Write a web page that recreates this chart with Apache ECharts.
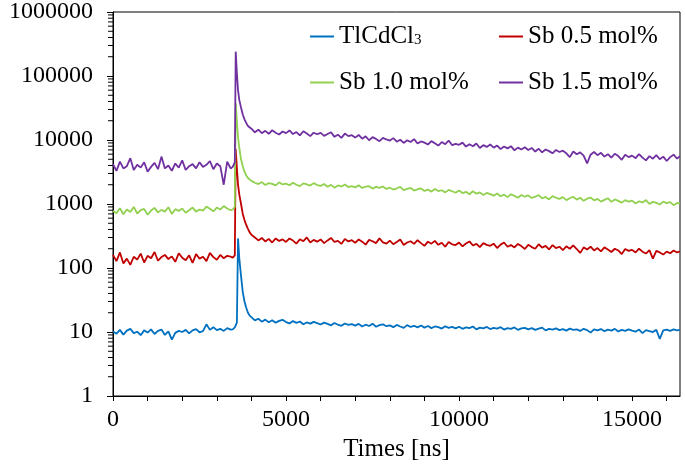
<!DOCTYPE html>
<html>
<head>
<meta charset="utf-8">
<script src="https://cdn.jsdelivr.net/npm/echarts@6/dist/echarts.min.js"></script>
<style>html,body{margin:0;padding:0;background:#fff}#c{width:685px;height:465px}</style>
</head>
<body>
<div id="c"></div>
<script>
// ---- data ----
const seriesNames = ['TlCdCl3', 'Sb 0.5 mol%', 'Sb 1.0 mol%', 'Sb 1.5 mol%'];
const seriesColors = ['#0070C0', '#C00000', '#92D050', '#7030A0'];
const xTickStep = 1000;
const xLabelStep = 5000;
const yTickValues = [1, 10, 100, 1000, 10000, 100000, 1000000];
const yMinorTickValues = [2,3,4,5,6,7,8,9,20,30,40,50,60,70,80,90,200,300,400,500,600,700,800,900,
  2000,3000,4000,5000,6000,7000,8000,9000,20000,30000,40000,50000,60000,70000,80000,90000,
  200000,300000,400000,500000,600000,700000,800000,900000];

const times = [0,100,200,300,400,500,600,700,800,900,
 1000,1100,1200,1300,1400,1500,1600,1700,1800,1900,
 2000,2100,2200,2300,2400,2500,2600,2700,2800,2900,
 3000,3100,3200,3300,3400,
 3460,3520,3546,3580,3613,3650,3700,3750,3800,3850,3900,3950,
 4000,4100,4200,4300,4400,4500,4600,4700,4800,4900,
 5000,5100,5200,5300,5400,5500,5600,5700,5800,5900,
 6000,6100,6200,6300,6400,6500,6600,6700,6800,6900,
 7000,7100,7200,7300,7400,7500,7600,7700,7800,7900,
 8000,8100,8200,8300,8400,8500,8600,8700,8800,8900,
 9000,9100,9200,9300,9400,9500,9600,9700,9800,9900,
 10000,10100,10200,10300,10400,10500,10600,10700,10800,10900,
 11000,11100,11200,11300,11400,11500,11600,11700,11800,11900,
 12000,12100,12200,12300,12400,12500,12600,12700,12800,12900,
 13000,13100,13200,13300,13400,13500,13600,13700,13800,13900,
 14000,14100,14200,14300,14400,14500,14600,14700,14800,14900,
 15000,15100,15200,15300,15400,15500,15600,15700,15800,15900,
 16000,16100,16200,16300,16380];

const tlcdcl3 = [10.2,9.4,10.8,9.1,10.5,11.2,9.6,10.1,8.9,10.6,
 9.8,11.0,9.3,10.4,10.9,9.0,10.2,7.6,9.7,10.4,
 10.0,10.8,9.5,10.6,11.1,9.9,10.3,13.2,10.8,11.9,
 10.7,11.2,10.4,11.5,10.9,
 11.0,11.8,12.2,14.0,290,140,75,42,30,24,20,18,
 16.8,15.2,16.1,14.5,15.6,14.2,15.3,14.0,14.9,15.5,
 14.3,13.6,14.8,13.9,14.6,13.2,14.1,13.5,14.4,13.8,
 13.1,14.0,13.4,12.7,13.8,13.0,12.5,13.6,12.9,13.3,
 12.6,13.4,12.2,13.0,12.4,13.5,12.1,12.8,13.2,12.3,
 12.7,11.9,12.9,12.2,11.6,12.8,12.0,12.5,11.8,12.6,
 11.7,12.4,11.5,12.2,11.9,11.3,12.3,11.6,12.0,11.4,
 12.1,11.2,11.8,11.5,12.2,11.0,11.7,11.4,12.0,11.1,
 11.6,11.3,11.9,10.9,11.5,11.2,11.8,10.8,11.4,11.6,
 11.0,11.5,10.8,11.3,11.7,10.6,11.2,10.9,11.4,10.7,
 11.1,10.5,11.3,10.8,11.0,10.4,11.2,10.7,9.8,11.0,
 10.6,11.1,10.3,10.9,10.5,11.2,10.2,10.8,10.4,11.0,
 10.5,10.1,10.9,9.6,10.7,10.3,10.0,10.8,7.8,10.6,
 10.9,10.4,11.0,10.6,10.8];

const sb05 = [160,128,175,118,140,112,150,135,168,122,
 155,142,178,130,148,160,138,152,125,170,
 145,132,158,120,165,140,150,128,172,148,
 135,160,142,155,150,
 145,158,7200,3600,2000,1400,1000,700,560,470,410,360,
 330,300,270,295,260,285,250,290,265,280,
 255,290,268,240,282,262,300,250,275,258,
 280,245,270,295,255,265,238,285,260,272,
 248,280,258,232,275,262,245,290,252,240,
 268,235,255,278,228,250,262,238,272,245,
 222,258,240,265,230,248,215,255,235,228,
 250,218,242,260,225,238,212,245,230,222,
 240,205,232,250,215,228,210,238,220,198,
 230,212,200,235,208,222,195,228,205,215,
 190,218,200,225,198,172,210,195,215,188,
 205,182,210,195,178,200,188,165,198,185,
 192,175,200,180,168,190,140,185,175,162,
 180,170,188,175,182];

const sb10 = [780,720,860,690,820,750,900,710,800,840,
 680,790,870,740,810,760,890,700,830,780,
 850,730,800,880,760,820,790,910,840,770,
 880,820,930,850,800,
 820,900,37500,20000,11000,7500,5000,3900,3200,2800,2550,2400,
 2300,2150,2050,2200,1980,2120,2060,1950,2180,2020,
 2080,1960,2150,2000,1900,2100,2030,1940,2120,1980,
 1920,2050,1860,1990,1800,1950,1880,2020,1840,1900,
 1820,1960,1780,1870,1900,1740,1850,1790,1880,1720,
 1800,1680,1760,1850,1650,1720,1780,1620,1700,1750,
 1600,1680,1560,1720,1590,1640,1520,1660,1580,1500,
 1620,1480,1550,1420,1580,1450,1520,1380,1490,1430,
 1350,1460,1320,1400,1280,1420,1340,1250,1380,1300,
 1360,1240,1300,1380,1220,1290,1180,1330,1250,1200,
 1280,1150,1230,1300,1170,1250,1120,1210,1260,1140,
 1200,1090,1160,1230,1080,1180,1120,1050,1150,1090,
 1130,1020,1100,1060,1150,1000,1080,1040,980,1090,
 1030,1070,960,1040,1010];

const sb15 = [4200,3300,4600,3600,3900,5200,3400,4100,3700,4500,
 3200,3800,4400,3500,5500,3600,4000,3300,4300,3700,
 4800,3400,3900,4200,3600,4500,3800,4100,4700,3500,
 4300,3900,2000,4600,3600,
 3800,4500,240000,110000,60000,42000,32000,25000,21000,18500,16500,15500,
 15000,13200,14500,12800,13900,12500,14200,13000,12200,13600,
 12800,14100,12400,13300,11800,13700,12600,11500,13000,12300,
 12900,11600,12400,13200,11200,12100,10800,12600,11500,11900,
 10900,12000,10500,11400,9900,11100,10400,9600,10800,10200,
 9800,10700,9400,10100,9000,9900,9300,10300,8800,9500,
 9100,8500,9600,8900,8200,9300,8600,9800,8300,8700,
 8400,9100,7900,8600,8000,8800,7500,8300,7800,8500,
 7600,8200,7200,7900,7400,8000,6900,7600,7100,7700,
 7000,7500,6600,7300,6400,7100,6700,6200,7000,6500,
 6800,6200,5400,6600,6000,6400,5700,4300,5900,6500,
 5800,6300,5500,6000,5300,6100,5600,4900,5900,5400,
 5700,5200,6000,5300,4800,5600,5100,5800,5000,5500,
 4700,5400,5900,5100,5600];

const seriesValues = [tlcdcl3, sb05, sb10, sb15];
// ---- chart ----
const FONT = 'Liberation Serif';
const chart = echarts.init(document.getElementById('c'), null, {renderer: 'canvas'});

const lineSeries = seriesNames.map((name, k) => ({
  name: name,
  type: 'line',
  showSymbol: false,
  symbol: 'none',
  animation: false,
  lineStyle: {color: seriesColors[k], width: 1.8},
  itemStyle: {color: seriesColors[k]},
  data: times.map((t, i) => [t, seriesValues[k][i]])
}));

const minorTickSeries = {
  type: 'custom',
  silent: true,
  animation: false,
  clip: false,
  data: yMinorTickValues.map(v => [0, v]),
  renderItem: function (params, api) {
    const p = api.coord([0, api.value(1)]);
    return {type: 'line', shape: {x1: p[0] - 5, y1: p[1], x2: p[0], y2: p[1]},
      style: {stroke: '#000', lineWidth: 1}};
  }
};

const legendBase = {
  orient: 'horizontal',
  icon: 'rect',
  itemWidth: 24,
  itemHeight: 2,
  itemGap: 0,
  selectedMode: false,
  textStyle: {fontFamily: FONT, fontSize: 25, color: '#000',
    rich: {s: {fontFamily: FONT, fontSize: 15, color: '#000', padding: [8, 0, 0, 0]}}},
  formatter: function (name) { return name === 'TlCdCl3' ? 'TlCdCl{s|3}' : name; }
};
const legendPos = [[305, 19], [494, 19], [305, 65], [494, 65]];

chart.setOption({
  animation: false,
  backgroundColor: '#fff',
  grid: {left: 113, right: 5, top: 12, bottom: 69, show: true, borderColor: '#000', borderWidth: 1,
    containLabel: false, outerBoundsMode: 'none'},
  legend: seriesNames.map((n, k) => Object.assign({}, legendBase, {data: [n], left: legendPos[k][0], top: legendPos[k][1]})),
  xAxis: {
    type: 'value', min: 0, max: 16384, interval: xTickStep,
    name: 'Times [ns]', nameLocation: 'middle', nameGap: 31,
    nameTextStyle: {fontFamily: FONT, fontSize: 25, color: '#000'},
    axisLine: {show: true, onZero: false, lineStyle: {color: '#000', width: 1}},
    axisTick: {show: true, inside: false, length: 5, lineStyle: {color: '#000'}},
    axisLabel: {fontFamily: FONT, fontSize: 24, color: '#000', margin: 12, showMaxLabel: false,
      formatter: v => (v % xLabelStep === 0 ? String(v) : '')},
    splitLine: {show: false}
  },
  yAxis: {
    type: 'log', logBase: 10, min: yTickValues[0], max: yTickValues[yTickValues.length - 1],
    name: 'Intensity [a.u.]', nameLocation: 'middle', nameGap: 86,
    nameTextStyle: {fontFamily: FONT, fontSize: 30, color: '#000'},
    axisLine: {show: true, lineStyle: {color: '#000', width: 1}},
    axisTick: {show: true, inside: false, length: 6, lineStyle: {color: '#000'}},
    axisLabel: {fontFamily: FONT, fontSize: 24, color: '#000', margin: 20,
      formatter: v => String(Math.round(v))},
    splitLine: {show: false}
  },
  series: lineSeries.concat([minorTickSeries])
});
</script>
</body>
</html>
